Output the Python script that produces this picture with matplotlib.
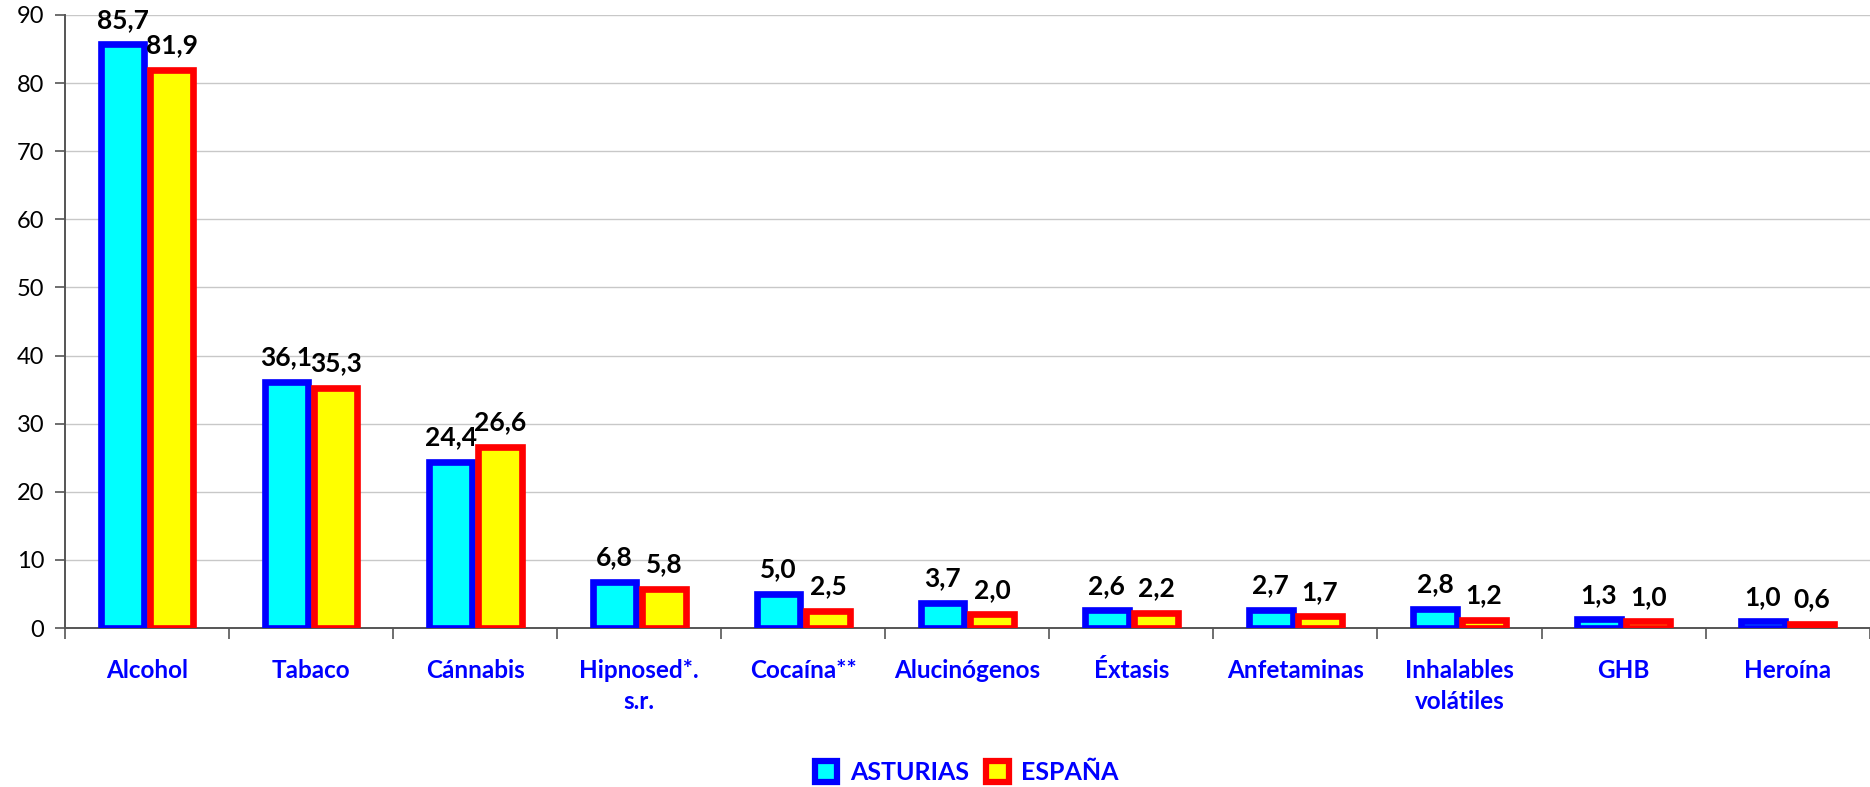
import matplotlib.pyplot as plt
import numpy as np
from matplotlib.patches import Patch

categories = ["Alcohol", "Tabaco", "Cánnabis", "Hipnosed*.\ns.r.", "Cocaína**",
              "Alucinógenos", "Éxtasis", "Anfetaminas", "Inhalables\nvolátiles",
              "GHB", "Heroína"]
asturias = [85.7, 36.1, 24.4, 6.8, 5.0, 3.7, 2.6, 2.7, 2.8, 1.3, 1.0]
espana = [81.9, 35.3, 26.6, 5.8, 2.5, 2.0, 2.2, 1.7, 1.2, 1.0, 0.6]
series_names = ["ASTURIAS", "ESPAÑA"]


def fmt(v):
	return "{:.1f}".format(v).replace(".", ",")


def main():
	plt.rcParams['font.family'] = ['Lato', 'DejaVu Sans']
	fig = plt.figure(figsize=(18.7, 7.87), dpi=100)
	ax = fig.add_axes([0.0348, 0.202, 0.965, 0.779])

	x = np.arange(len(categories))
	w = 0.265
	off = 0.15
	b1 = ax.bar(x - off, asturias, w, color='#00FFFF', edgecolor='#0000FF', linewidth=4.8, zorder=3)
	b2 = ax.bar(x + off, espana, w, color='#FFFF00', edgecolor='#FF0000', linewidth=4.8, zorder=3)

	for bars, vals in [(b1, asturias), (b2, espana)]:
		for r, v in zip(bars, vals):
			ax.annotate(fmt(v), (r.get_x() + r.get_width() / 2, v), xytext=(0, 9),
			            textcoords='offset points', ha='center', va='bottom',
			            fontsize=19, fontweight='bold', color='black', zorder=5)

	ax.set_xlim(-0.5, len(categories) - 0.5)
	ax.set_ylim(0, 90)
	ax.set_yticks(np.arange(0, 91, 10))
	ax.yaxis.grid(True, color='#c8c8c8', linewidth=1.0, zorder=0)
	ax.set_axisbelow(True)
	ax.tick_params(axis='y', labelsize=17, length=7, width=1.2, color='#555555', pad=8)

	ax.set_xticks(x)
	ax.set_xticklabels(categories, fontsize=17.5, fontweight='bold', color='#0000FF', linespacing=1.45)
	ax.tick_params(axis='x', which='major', length=0, pad=22)
	ax.set_xticks(np.arange(-0.5, len(categories) - 0.4, 1), minor=True)
	ax.tick_params(axis='x', which='minor', length=8, width=1.2, color='#555555')

	for s in ['top', 'right']:
		ax.spines[s].set_visible(False)
	for s in ['left', 'bottom']:
		ax.spines[s].set_color('#555555')
		ax.spines[s].set_linewidth(1.4)

	handles = [Patch(facecolor='#00FFFF', edgecolor='#0000FF', linewidth=4.5),
	           Patch(facecolor='#FFFF00', edgecolor='#FF0000', linewidth=4.5)]
	leg = fig.legend(handles, series_names, loc='center', bbox_to_anchor=(0.517, 0.018),
	                 ncol=2, frameon=False, handlelength=0.9, handleheight=0.9,
	                 handletextpad=0.5, columnspacing=0.7,
	                 prop={'size': 18, 'weight': 'bold'})
	for t in leg.get_texts():
		t.set_color('#0000FF')

	fig.savefig("out.png", dpi=100)


if __name__ == "__main__":
	main()
